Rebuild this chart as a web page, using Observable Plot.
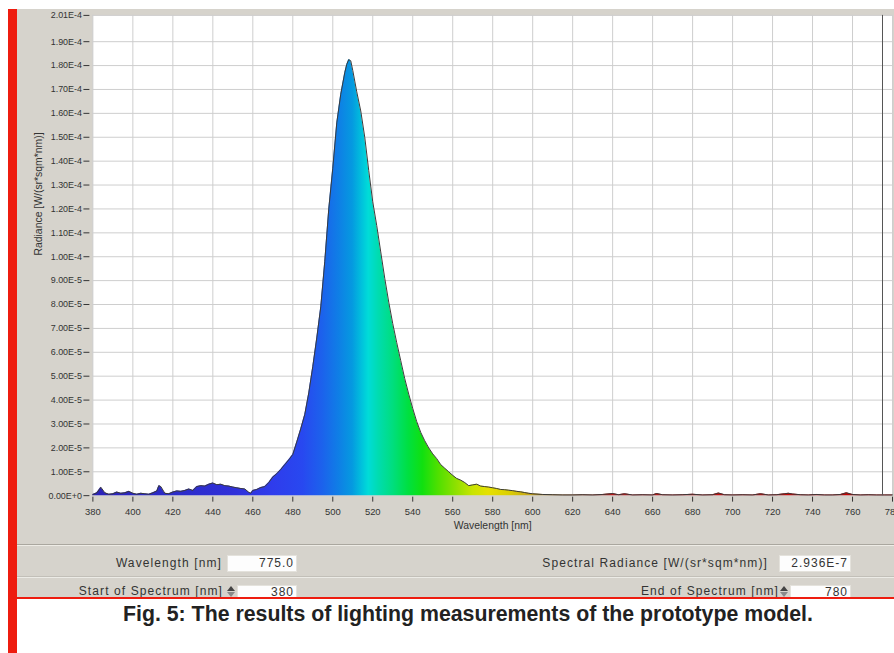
<!DOCTYPE html>
<html>
<head>
<meta charset="utf-8">
<script src="https://cdn.jsdelivr.net/npm/d3@7"></script>
<script src="https://cdn.jsdelivr.net/npm/@observablehq/plot@0.6"></script>
<style>
html,body{margin:0;padding:0;background:#fff;}
body{width:894px;height:653px;overflow:hidden;position:relative;font-family:"Liberation Sans",Arial,sans-serif;}
#panel{position:absolute;left:17px;top:9px;width:877px;height:588px;background:#d6d3cc;}
#redbar{position:absolute;left:8px;top:9px;width:9px;height:644px;background:#ee1c0f;z-index:5;}
#redline{position:absolute;left:17px;top:597px;width:877px;height:2px;background:#ee1c0f;z-index:5;}
#chart{position:absolute;left:0;top:0;z-index:2;}
#ui{position:absolute;left:0;top:0;width:894px;height:597px;overflow:hidden;z-index:3;}
.sep{position:absolute;left:17px;width:877px;height:1px;}
.lbl{position:absolute;left:0;text-align:right;font-size:12px;letter-spacing:1.1px;color:#333;line-height:14px;white-space:nowrap;}
.box{position:absolute;background:#fdfdfd;border:1px solid #e4e2dc;box-sizing:border-box;}
.val{position:absolute;left:0;text-align:right;font-size:12px;letter-spacing:1px;color:#333;line-height:14px;white-space:nowrap;}
.up{position:absolute;width:0;height:0;border-left:4px solid transparent;border-right:4px solid transparent;border-bottom:5px solid #444;}
.dn{position:absolute;width:0;height:0;border-left:4px solid transparent;border-right:4px solid transparent;border-top:5px solid #8a8a8a;}
#caption{position:absolute;left:123px;top:601.5px;font-size:21.3px;font-weight:bold;color:#222;line-height:24px;white-space:nowrap;}
</style>
</head>
<body>
<div id="panel"></div>
<div id="redbar"></div>
<div id="chart"></div>
<div id="ui">
  <div class="sep" style="top:544px;background:#aaa79f"></div>
  <div class="sep" style="top:545px;background:#eeece6"></div>
  <div class="sep" style="top:576px;background:#c2bfb8"></div>
  <div class="sep" style="top:577px;background:#ecebe6"></div>

  <div class="lbl" style="width:222px;top:556px">Wavelength [nm]</div>
  <div class="box" style="left:227px;top:555px;width:70px;height:17px"></div>
  <div class="val" style="width:294px;top:556px">775.0</div>

  <div class="lbl" style="width:768px;top:556px">Spectral Radiance [W/(sr*sqm*nm)]</div>
  <div class="box" style="left:779px;top:555px;width:72px;height:17px"></div>
  <div class="val" style="width:848px;top:556px">2.936E-7</div>

  <div class="lbl" style="width:223px;top:584px">Start of Spectrum [nm]</div>
  <div class="up" style="left:227px;top:586px"></div>
  <div class="dn" style="left:227px;top:592px"></div>
  <div class="box" style="left:237px;top:585px;width:60px;height:20px"></div>
  <div class="val" style="width:294px;top:585px">380</div>

  <div class="lbl" style="width:779px;top:584px">End of Spectrum [nm]</div>
  <div class="up" style="left:780px;top:586px"></div>
  <div class="dn" style="left:780px;top:592px"></div>
  <div class="box" style="left:790px;top:585px;width:61px;height:20px"></div>
  <div class="val" style="width:848px;top:585px">780</div>
</div>
<div id="redline"></div>
<div id="caption">Fig. 5: The results of lighting measurements of the prototype model.</div>

<script>
// Spectrum; radiance in units of 1E-5 W/(sr*sqm*nm)
const wavelengths = [
  380,382,384,386,388,390,392,394,396,398,400,402,404,406,408,410,412,413,414,416,418,420,422,424,426,428,430,
  432,434,436,438,440,442,444,446,448,450,452,454,456,458,459,460,462,464,466,468,470,472,474,476,478,480,
  482,484,486,488,490,492,494,496,498,500,502,504,506,507,508,509,510,511,512,514,516,518,520,522,524,526,
  528,530,532,534,536,538,540,542,544,546,548,550,552,554,556,558,560,562,564,566,568,570,572,574,576,578,
  580,582,584,586,588,590,592,594,596,598,600,605,610,615,620,625,630,635,640,643,646,650,655,660,662,665,
  670,675,680,685,690,693,696,700,705,710,714,718,722,726,728,730,734,738,742,746,750,754,757,760,764,768,
  772,776,780
];
const radiance = [
  0.05,0.12,0.35,0.12,0.06,0.08,0.15,0.10,0.12,0.18,0.10,0.06,0.10,0.08,0.06,0.12,0.20,0.42,0.38,0.10,0.08,0.15,0.20,0.18,0.22,0.28,0.22,
  0.38,0.42,0.40,0.48,0.53,0.46,0.48,0.42,0.40,0.36,0.33,0.30,0.28,0.14,0.10,0.22,0.26,0.34,0.38,0.55,0.78,0.92,1.10,1.30,1.50,1.72,
  2.25,2.80,3.40,4.30,5.40,6.60,7.90,9.80,12.0,13.7,15.6,16.8,17.7,18.05,18.25,18.2,17.8,17.35,16.9,16.1,15.0,13.6,12.3,11.3,10.2,9.1,
  8.1,7.2,6.4,5.65,4.9,4.25,3.65,3.1,2.65,2.3,2.0,1.75,1.55,1.3,1.15,1.0,0.85,0.72,0.65,0.55,0.42,0.45,0.48,0.40,0.38,0.36,
  0.33,0.30,0.26,0.25,0.23,0.21,0.18,0.16,0.13,0.10,0.08,0.05,0.04,0.03,0.03,0.04,0.03,0.05,0.09,0.04,0.08,0.03,0.04,0.03,0.09,0.04,
  0.03,0.04,0.06,0.03,0.04,0.11,0.04,0.03,0.04,0.03,0.08,0.03,0.04,0.08,0.10,0.07,0.04,0.03,0.05,0.03,0.03,0.05,0.12,0.05,0.03,0.04,
  0.03,0.03,0.03
];
const xTicks = [380,400,420,440,460,480,500,520,540,560,580,600,620,640,660,680,700,720,740,760,780];
const yTicks = [0,1,2,3,4,5,6,7,8,9,10,11,12,13,14,15,16,17,18,19,20.1];
const yTickLabels = ["0.00E+0","1.00E-5","2.00E-5","3.00E-5","4.00E-5","5.00E-5","6.00E-5","7.00E-5","8.00E-5","9.00E-5",
  "1.00E-4","1.10E-4","1.20E-4","1.30E-4","1.40E-4","1.50E-4","1.60E-4","1.70E-4","1.80E-4","1.90E-4","2.01E-4"];
const cursorWavelength = 775;
const xTitle = "Wavelength [nm]";
const yTitle = "Radiance [W/(sr*sqm*nm)]";
// spectral colour stops (wavelength, colour)
const stopWavelengths = [380,420,450,470,485,495,503,510,515,518,523,530,538,545,553,562,570,578,588,598,610,625,640,780];
const stopColors = ["#2b22b8","#2c2cc8","#3030d8","#2f3cec","#2848f0","#1c62ec","#0f7ee6","#059ae0","#00c4dc","#00dcd8",
  "#00dcb0","#00de80","#00e040","#10e010","#50e000","#90e000","#c8e400","#e6e000","#dcd000","#c8a818","#a86c10","#a04018","#c01818","#c00000"];

const data = wavelengths.map((w, i) => ({w, r: radiance[i]}));
const yLabel = new Map(yTicks.map((t, i) => [t, yTickLabels[i]]));

const chart = Plot.plot({
  width: 900,
  height: 545,
  marginLeft: 93,
  marginRight: 2,
  marginTop: 15,
  marginBottom: 46.5,
  style: {background: "transparent", fontFamily: "'Liberation Sans', Arial, sans-serif", color: "#333", overflow: "visible"},
  x: {domain: [380, 780]},
  y: {domain: [0, 20.1]},
  marks: [
    Plot.frame({fill: "#ffffff", stroke: null}),
    Plot.gridX(xTicks, {stroke: "#cecece", strokeOpacity: 1}),
    Plot.gridY(yTicks, {stroke: "#cecece", strokeOpacity: 1}),
    Plot.areaY(data, {x: "w", y: "r", fill: "url(#spectrum)"}),
    Plot.lineY(data, {x: "w", y: "r", stroke: "#3a3a3a", strokeWidth: 1}),
    Plot.ruleX([cursorWavelength], {stroke: "#555", strokeWidth: 1}),
    Plot.axisY(yTicks, {tickFormat: d => yLabel.get(d), tickSize: 6, tickPadding: 2, dx: -3, fontSize: 9, label: null}),
    Plot.axisX(xTicks, {tickFormat: d => String(d), tickSize: 5, tickPadding: 6.5, dy: 1.5, fontSize: 9.5, label: null}),
    Plot.text([yTitle], {frameAnchor: "left", dx: -54.7, rotate: -90, fontSize: 10.5, fill: "#333"}),
    Plot.text([xTitle], {frameAnchor: "bottom", dy: 33.2, fontSize: 10.5, fill: "#333"})
  ]
});

const xs = chart.scale("x");
const grad = d3.select(chart).insert("defs", ":first-child").append("linearGradient")
  .attr("id", "spectrum").attr("gradientUnits", "userSpaceOnUse")
  .attr("x1", xs.apply(380)).attr("x2", xs.apply(780)).attr("y1", 0).attr("y2", 0);
stopWavelengths.forEach((w, i) => grad.append("stop").attr("offset", (w - 380) / 400).attr("stop-color", stopColors[i]));

document.getElementById("chart").appendChild(chart);
</script>
</body>
</html>
